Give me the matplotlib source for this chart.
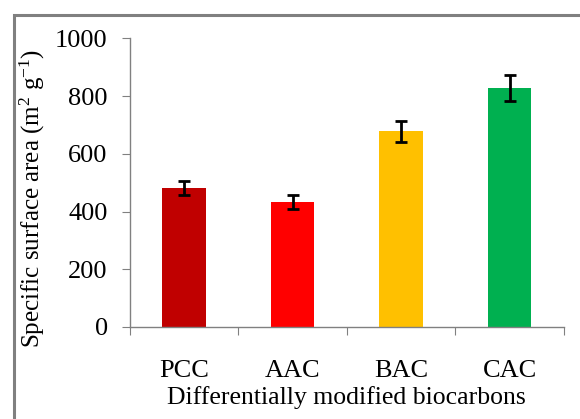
import matplotlib

matplotlib.use("Agg")
import matplotlib.pyplot as plt
from matplotlib.patches import Rectangle

# values
categories = ["PCC", "AAC", "BAC", "CAC"]
surface_area = [482, 433, 678, 828]
surface_err = [25, 24, 37, 45]
bar_colors = ["#C00000", "#FF0000", "#FFC000", "#00B050"]
y_ticks = [0, 200, 400, 600, 800, 1000]

plt.rcParams["font.family"] = ["Liberation Serif", "DejaVu Serif"]
plt.rcParams["mathtext.fontset"] = "custom"
plt.rcParams["mathtext.rm"] = "Liberation Serif"
plt.rcParams["mathtext.it"] = "Liberation Serif"

fig = plt.figure(figsize=(5.8, 4.19), dpi=100)
ax = fig.add_axes([0.224, 0.2196, 0.748, 0.689])

# grey outer frame (left and top edges visible, rest runs off the canvas)
fig.add_artist(Rectangle((0.0245, -0.05), 1.2, 0.964 + 0.05, transform=fig.transFigure,
                         fill=False, edgecolor="#808080", linewidth=2.2))

x = range(len(categories))
ax.bar(x, surface_area, width=0.4, color=bar_colors, zorder=2)
ax.errorbar(x, surface_area, yerr=surface_err, fmt="none", ecolor="black",
            elinewidth=2.0, capsize=4.3, capthick=2.0, zorder=3)

ax.set_xlim(-0.5, len(categories) - 0.5)
ax.set_ylim(0, 1000)
ax.set_yticks(y_ticks)

# boundary ticks without labels, category names at the centres
ax.set_xticks([i - 0.5 for i in range(len(categories) + 1)])
ax.set_xticklabels([])
ax.set_xticks(list(x), minor=True)
ax.set_xticklabels(categories, minor=True, fontsize=19)
ax.tick_params(axis="x", which="major", direction="out", length=6, color="#808080")
ax.tick_params(axis="x", which="minor", length=0, pad=24)
ax.tick_params(axis="y", direction="out", length=6, color="#808080", labelsize=19, pad=10)

for side in ["top", "right"]:
    ax.spines[side].set_visible(False)
for side in ["left", "bottom"]:
    ax.spines[side].set_color("#808080")
    ax.spines[side].set_linewidth(1.0)

ax.set_xlabel("Differentially modified biocarbons", fontsize=18.5, labelpad=3)
ax.set_ylabel("Specific surface area (m$^{2}$ g$^{-1}$)", fontsize=18)
ax.yaxis.set_label_coords(-0.19, 0.446)

fig.savefig("out.png", dpi=100)
